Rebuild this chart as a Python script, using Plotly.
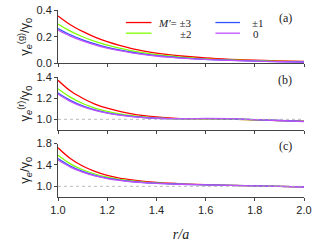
import plotly.graph_objects as go
from plotly.subplots import make_subplots

r = [1.0, 1.05, 1.1, 1.15, 1.2, 1.25, 1.3, 1.35, 1.4, 1.45, 1.5, 1.6, 1.7, 1.8, 1.9, 2.0]

labels = ["<i>M′</i>= ±3", "±2", "±1", "0"]
colors = ["#ff0000", "#80ff00", "#3050ff", "#c050ff"]

# panel (a): gamma_e^(g)/gamma_0
ga = {
    "±3": [0.355, 0.29, 0.24, 0.197, 0.163, 0.135, 0.112, 0.093, 0.078, 0.066, 0.056, 0.041, 0.031, 0.024, 0.019, 0.015],
    "±2": [0.295, 0.242, 0.2, 0.165, 0.137, 0.114, 0.095, 0.079, 0.066, 0.056, 0.048, 0.035, 0.027, 0.021, 0.016, 0.013],
    "±1": [0.262, 0.215, 0.177, 0.146, 0.121, 0.101, 0.084, 0.07, 0.059, 0.05, 0.042, 0.031, 0.024, 0.018, 0.014, 0.011],
    "0":  [0.25, 0.205, 0.169, 0.139, 0.115, 0.096, 0.08, 0.067, 0.056, 0.047, 0.04, 0.03, 0.023, 0.017, 0.013, 0.01],
}
# panel (b): gamma_e^(r)/gamma_0
gb = {
    "±3": [1.37, 1.27, 1.2, 1.145, 1.105, 1.075, 1.052, 1.035, 1.022, 1.013, 1.007, 1.004, 1.002, 0.995, 0.988, 0.982],
    "±2": [1.29, 1.21, 1.15, 1.107, 1.075, 1.052, 1.035, 1.022, 1.013, 1.007, 1.004, 1.004, 1.003, 0.996, 0.988, 0.981],
    "±1": [1.25, 1.18, 1.128, 1.09, 1.062, 1.042, 1.027, 1.017, 1.01, 1.006, 1.005, 1.006, 1.004, 0.997, 0.989, 0.98],
    "0":  [1.24, 1.17, 1.12, 1.085, 1.058, 1.039, 1.025, 1.016, 1.01, 1.007, 1.006, 1.008, 1.006, 0.998, 0.989, 0.979],
}
# panel (c): gamma_e/gamma_0
gc = {
    "±3": [1.72, 1.52, 1.38, 1.28, 1.205, 1.155, 1.12, 1.093, 1.073, 1.058, 1.046, 1.03, 1.019, 1.008, 0.998, 0.99],
    "±2": [1.58, 1.42, 1.31, 1.23, 1.17, 1.13, 1.1, 1.078, 1.062, 1.05, 1.04, 1.027, 1.018, 1.008, 0.998, 0.989],
    "±1": [1.52, 1.38, 1.28, 1.205, 1.152, 1.117, 1.09, 1.07, 1.057, 1.047, 1.038, 1.027, 1.018, 1.008, 0.998, 0.988],
    "0":  [1.49, 1.36, 1.265, 1.195, 1.145, 1.11, 1.085, 1.067, 1.055, 1.045, 1.038, 1.027, 1.019, 1.009, 0.998, 0.987],
}
keys = ["±3", "±2", "±1", "0"]

fig = make_subplots(rows=3, cols=1, shared_xaxes=False, vertical_spacing=0.0)

for panel, data in enumerate([ga, gb, gc], start=1):
    for k, lab, col in zip(keys, labels, colors):
        fig.add_trace(go.Scatter(
            x=r, y=data[k], mode="lines", line=dict(color=col, width=1.3, shape="spline"),
            name=lab, showlegend=False), row=panel, col=1)
    if panel > 1:
        fig.add_hline(y=1.0, line=dict(color="#aaaaaa", width=0.8, dash="dot"), row=panel, col=1)

domains = [[0.714, 1.0], [0.359, 0.641], [0.0, 0.286]]
yranges = [[0, 0.4], [0.9, 1.4], [0.8, 1.8]]
ytv = [[0.0, 0.2, 0.4], [1.0, 1.2, 1.4], [1.0, 1.4, 1.8]]
ytt = [["0.0", "0.2", "0.4"], ["1.0", "1.2", "1.4"], ["1.0", "1.4", "1.8"]]
ytitles = ["γ<sub><i>e</i></sub><sup>(g)</sup>/γ<sub>0</sub>",
           "γ<sub><i>e</i></sub><sup>(r)</sup>/γ<sub>0</sub>",
           "γ<sub><i>e</i></sub>/γ<sub>0</sub>"]
axfont = dict(family="Liberation Sans, Arial", size=11, color="#222")
for i in range(3):
    yname = "yaxis" if i == 0 else f"yaxis{i+1}"
    xname = "xaxis" if i == 0 else f"xaxis{i+1}"
    fig.layout[yname].update(domain=domains[i], range=yranges[i], tickvals=ytv[i], ticktext=ytt[i],
                             showline=True, linecolor="#444", linewidth=1, ticks="outside", ticklen=3,
                             tickcolor="#444", showgrid=False, zeroline=False, tickfont=axfont,
                             title=dict(text=ytitles[i], font=dict(family="Liberation Sans, Arial", size=13, color="#222"), standoff=3))
    fig.layout[xname].update(range=[1.0, 2.0], tickvals=[1.0, 1.2, 1.4, 1.6, 1.8, 2.0],
                             showticklabels=(i == 2), ticktext=["1.0", "1.2", "1.4", "1.6", "1.8", "2.0"],
                             showline=True, linecolor="#444", linewidth=1, ticks="outside", ticklen=3,
                             tickcolor="#444", showgrid=False, zeroline=False, tickfont=axfont)
fig.layout.xaxis3.title = dict(text="<i>r/a</i>", font=dict(family="Liberation Serif, Times New Roman", size=14, color="#222"), standoff=13)

for txt, y in zip(["(a)", "(b)", "(c)"], [0.955, 0.625, 0.275]):
    fig.add_annotation(text=txt, xref="paper", yref="paper", x=0.96, y=y, xanchor="right", yanchor="middle",
                       showarrow=False, font=dict(family="Liberation Serif, Times New Roman", size=12, color="#222"))

# manual legend (two columns)
leg_font = dict(family="Liberation Serif, Times New Roman", size=11, color="#222")
leg_items = [  # (line x0, x1, y, text x, anchor)
    (0.276, 0.38, 0.933, 0.552, "right"),
    (0.276, 0.38, 0.876, 0.552, "right"),
    (0.64, 0.74, 0.933, 0.78, "left"),
    (0.64, 0.74, 0.876, 0.785, "left"),
]
for (x0, x1, y, tx, anc), lab, col in zip(leg_items, labels, colors):
    fig.add_shape(type="line", xref="paper", yref="paper", x0=x0, x1=x1, y0=y, y1=y,
                  line=dict(color=col, width=1.3))
    fig.add_annotation(text=lab, xref="paper", yref="paper", x=tx, y=y, xanchor=anc, yanchor="middle",
                       showarrow=False, font=leg_font, height=11)

fig.update_layout(
    width=316, height=247, margin=dict(l=58, r=8, t=4, b=50),
    plot_bgcolor="white", paper_bgcolor="white", showlegend=False,
)
fig.write_html("out.html", config={"displayModeBar": False},
               post_script="document.body.style.margin='0';")
